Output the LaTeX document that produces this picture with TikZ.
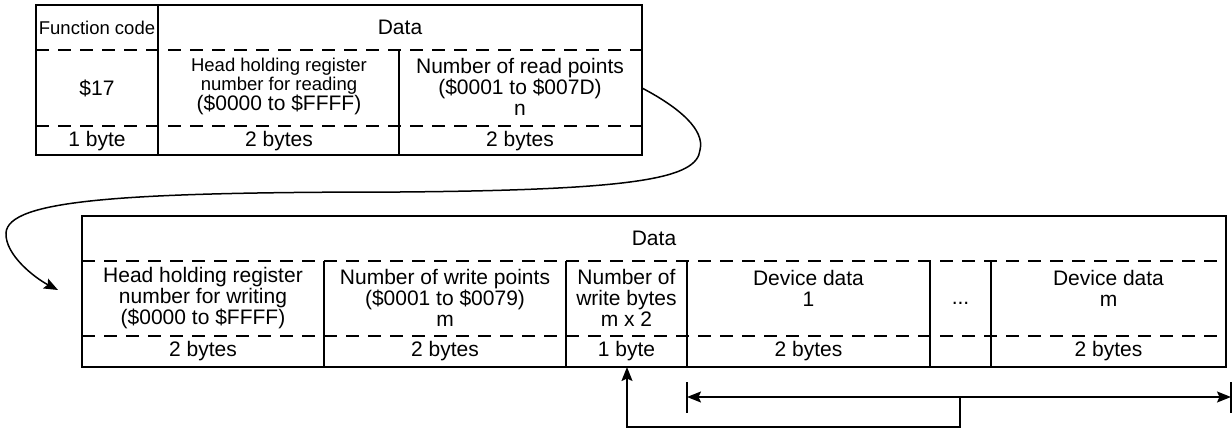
\documentclass[tikz,border=0pt]{standalone}
\usepackage{fontspec}
\setmainfont{Liberation Sans}
\usetikzlibrary{arrows.meta}
\begin{document}
\begin{tikzpicture}[x=1pt,y=-1pt,
  frame/.style={line width=1.6pt},
  sep/.style={line width=1.4pt, dash pattern=on 13pt off 9pt},
  cell/.style={font=\fontsize{21}{21}\selectfont, align=center, inner sep=0pt},
  small/.style={font=\fontsize{18.5}{19.5}\selectfont, align=center, inner sep=0pt},
  link/.style={line width=1.5pt, -{Stealth[length=14pt,width=11pt,inset=2.5pt]}},
  span/.style={line width=1.5pt, {Stealth[length=14pt,width=11pt,inset=2.5pt]}-{Stealth[length=14pt,width=11pt,inset=2.5pt]}}]
\useasboundingbox (0,0) rectangle (1232,428);

% ---- request frame: function code + read range ----
\draw[sep] (36,50) -- (642,50) (36,126) -- (642,126);
\draw[frame] (36,5) rectangle (642,155);
\draw[frame] (158,5) -- (158,155) (399,50) -- (399,155);

\node[small] (fc)   at (97,28)   {Function code};
\node[cell]  (dtop) at (400,27)  {Data};
\node[cell]  (code) at (97,88)   {\$17};
\node[small] (hrd)  at (279,86)  {Head holding register\\number for reading\\{\fontsize{21}{21}\selectfont(\$0000 to \$FFFF)}};
\node[cell]  (nrd)  at (520,87)  {Number of read points\\(\$0001 to \$007D)\\n};
\node[cell]  (s1)   at (97,141)  {1 byte};
\node[cell]  (s2)   at (279,141) {2 bytes};
\node[cell]  (s3)   at (520,141) {2 bytes};

% ---- continuation: write range and device data ----
\draw[sep] (82,261) -- (1226,261) (82,336) -- (1226,336);
\draw[frame] (82,216) rectangle (1226,367);
\draw[frame] (324,261) -- (324,367) (566,261) -- (566,367) (687,261) -- (687,367)
             (930,261) -- (930,367) (991,261) -- (991,367);

\node[cell] (dbot) at (654,238)   {Data};
\node[cell] (hwr)  at (203,298)   {Head holding register\\number for writing\\(\$0000 to \$FFFF)};
\node[cell] (nwr)  at (445,298)   {Number of write points\\(\$0001 to \$0079)\\m};
\node[cell] (nwb)  at (626.5,298) {Number of\\write bytes\\m x 2};
\node[cell] (dev1) at (808.5,288) {Device data\\1};
\node[cell, anchor=base] (dots) at (960.5,304) {...};
\node[cell] (devm) at (1108.5,288) {Device data\\m};
\node[cell] (t1) at (203,351.5)    {2 bytes};
\node[cell] (t2) at (445,351.5)    {2 bytes};
\node[cell] (t3) at (626.5,351.5)  {1 byte};
\node[cell] (t4) at (808.5,351.5)  {2 bytes};
\node[cell] (t6) at (1108.5,351.5) {2 bytes};

% ---- connectors ----
\coordinate (out)  at (642,88);
\coordinate (in)   at (58,290);
\draw[link] (out) .. controls (680,108) and (705,130) .. (700,150)
                  .. controls (697,178) and (640,190) .. (400,192)
                  .. controls (120,192) and (8,200) .. (6,233)
                  .. controls (5,255) and (35,278) .. (in);

\coordinate (spl) at (687,397);
\coordinate (spr) at (1231,397);
\draw[frame] (687,382) -- (687,413) (1231,382) -- (1231,413);
\draw[span] (spl) -- (spr);

\coordinate (mid)  at (960,397);
\coordinate (wbot) at (627,367);
\draw[link] (mid) -- (960,427) -- (627,427) -- (wbot);
\end{tikzpicture}
\end{document}
